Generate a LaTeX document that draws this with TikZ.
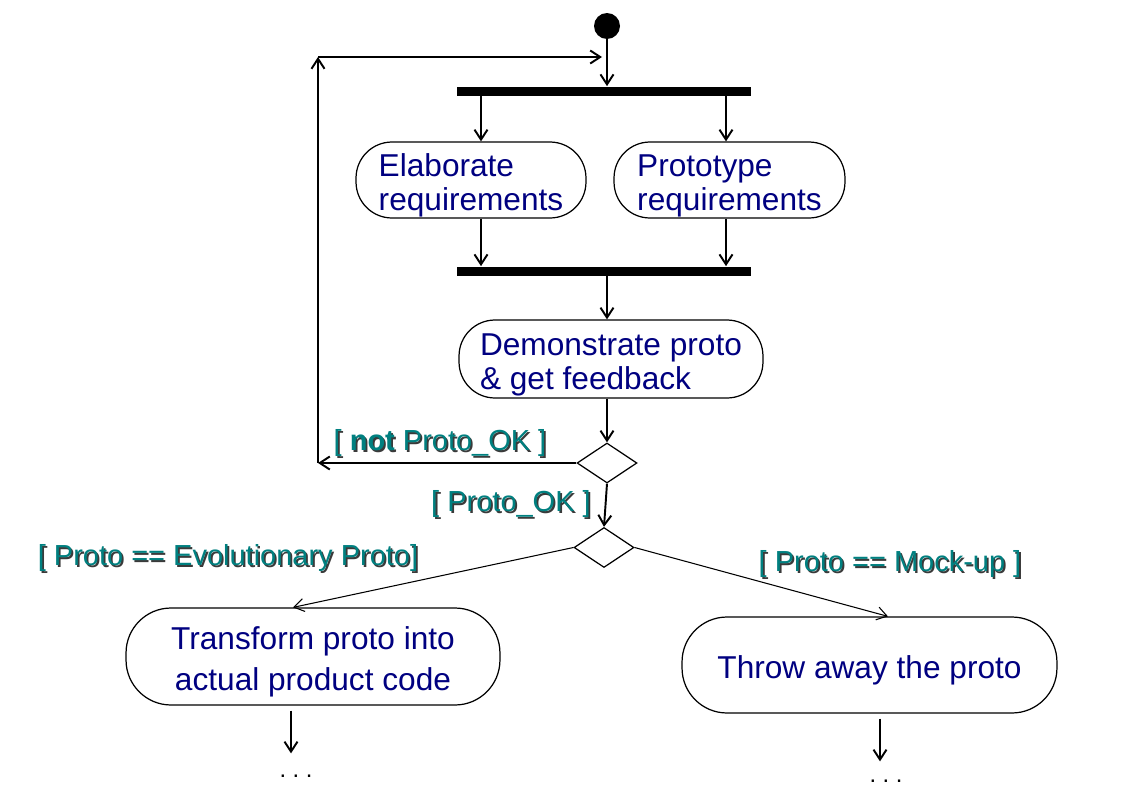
\documentclass[tikz,border=0pt]{standalone}
\usepackage{fontspec}
\setmainfont{Liberation Sans}
\usepackage{xcolor}
\usetikzlibrary{shapes.geometric, arrows.meta, positioning, calc}
\definecolor{actionblue}{HTML}{000080}
\definecolor{guardteal}{HTML}{008080}
\definecolor{guardshadow}{HTML}{3A3A3A}
\newcommand{\guardtext}[1]{\leavevmode\rlap{\kern1pt\raisebox{-1pt}{\textcolor{guardshadow}{#1}}}#1}
\newcommand{\textdrop}{\rule{0pt}{19pt}}

\begin{document}
\begin{tikzpicture}[
    x=0.02cm, y=-0.02cm,
    action/.style={
        rectangle,
        rounded corners=0.72cm,
        draw=black,
        line width=0.7pt,
        text=actionblue,
        inner sep=0pt,
        font=\fontsize{18}{19}\selectfont,
        align=left
    },
    bigaction/.style={
        action,
        rounded corners=0.9cm,
        minimum width=7.48cm,
        minimum height=1.94cm,
        align=center
    },
    bar/.style={
        rectangle,
        fill=black,
        inner sep=0pt,
        minimum width=5.9cm,
        minimum height=0.18cm
    },
    initial/.style={
        circle,
        fill=black,
        inner sep=0pt,
        minimum size=0.52cm
    },
    choice/.style={
        diamond,
        draw=black,
        line width=0.7pt,
        inner sep=0pt,
        minimum width=1.2cm,
        minimum height=0.8cm
    },
    flow/.style={
        ->,
        >={Straight Barb[length=2mm,width=2.6mm]},
        line width=1.1pt
    },
    thinflow/.style={
        flow,
        line width=0.6pt
    },
    guard/.style={
        text=guardteal,
        font=\fontsize{16.5}{18}\selectfont,
        inner sep=0pt
    },
    more/.style={
        font=\fontsize{13.5}{14}\selectfont\frenchspacing,
        inner sep=0pt
    }
]
\useasboundingbox (0,0) rectangle (1137,798);

% Nodes - main column
\node[initial] (start) at (607,26) {};
\node[bar] (fork) at (604,91) {};
\node[action, minimum width=4.6cm, minimum height=1.52cm] (elab) at (471,180) {\textdrop Elaborate\\requirements};
\node[action, minimum width=4.62cm, minimum height=1.52cm] (proto) at (729.5,180) {\textdrop Prototype\\requirements};
\node[bar] (join) at (604,271) {};
\node[action, minimum width=6.08cm, minimum height=1.56cm] (demo) at (611,359) {\textdrop Demonstrate proto\\\& get feedback};
\node[choice] (okcheck) at (607,463) {};
\node[choice] (kindcheck) at (604,547.5) {};

% Nodes - outcomes
\node[bigaction, font=\fontsize{18}{23}\selectfont] (transform) at (313,656.5) {\textdrop Transform proto into\\actual product code};
\node[bigaction, minimum width=7.5cm, minimum height=1.92cm] (throw) at (869.5,665) {\textdrop Throw away the proto};
\node[more] (transmore) at (296,776) {. . .};
\node[more] (throwmore) at (886,781) {. . .};

% Loop back path
\coordinate (loopbot) at (318,463);
\coordinate (looptop) at (318,57);
\coordinate (merge) at (607,57);

% Arrows - main column
\draw[flow] (start.south) -- (start |- fork.north);
\draw[flow] ([xshift=0.2cm]elab.north |- fork.south) -- ([xshift=0.2cm]elab.north);
\draw[flow] ([xshift=-0.07cm]proto.north |- fork.south) -- ([xshift=-0.07cm]proto.north);
\draw[flow] ([xshift=0.2cm]elab.south) -- ([xshift=0.2cm]elab.south |- join.north);
\draw[flow] ([xshift=-0.07cm]proto.south) -- ([xshift=-0.07cm]proto.south |- join.north);
\draw[flow] (start |- join.south) -- (start |- demo.north);
\draw[flow] (start |- demo.south) -- (okcheck.north);
\draw[flow] (okcheck.south) -- (kindcheck.north);

% Arrows - loop
\draw[flow] (okcheck.west) -- (loopbot);
\draw[flow] (loopbot) -- (looptop);
\draw[flow, shorten >=0.1cm] (looptop) -- (merge);

% Arrows - outcomes
\draw[thinflow] (kindcheck.west) -- ([xshift=-0.4cm]transform.north);
\draw[thinflow] (kindcheck.east) -- ([xshift=0.37cm]throw.north);
\draw[flow, shorten <=0.1cm, shorten >=0.42cm] ([xshift=-0.44cm]transform.south) -- ([xshift=-0.44cm]transform.south |- transmore.north);
\draw[flow, shorten <=0.1cm, shorten >=0.36cm] ([xshift=0.21cm]throw.south) -- ([xshift=0.21cm]throw.south |- throwmore.north);

% Labels
\node[guard] at (440,444) {\guardtext{[ \textbf{not} Proto\_OK ]}};
\node[guard] at (511,505) {\guardtext{[ Proto\_OK ]}};
\node[guard] at (228,559) {\guardtext{[ Proto == Evolutionary Proto]}};
\node[guard] at (890,565) {\guardtext{[ Proto == Mock-up ]}};

\end{tikzpicture}
\end{document}
